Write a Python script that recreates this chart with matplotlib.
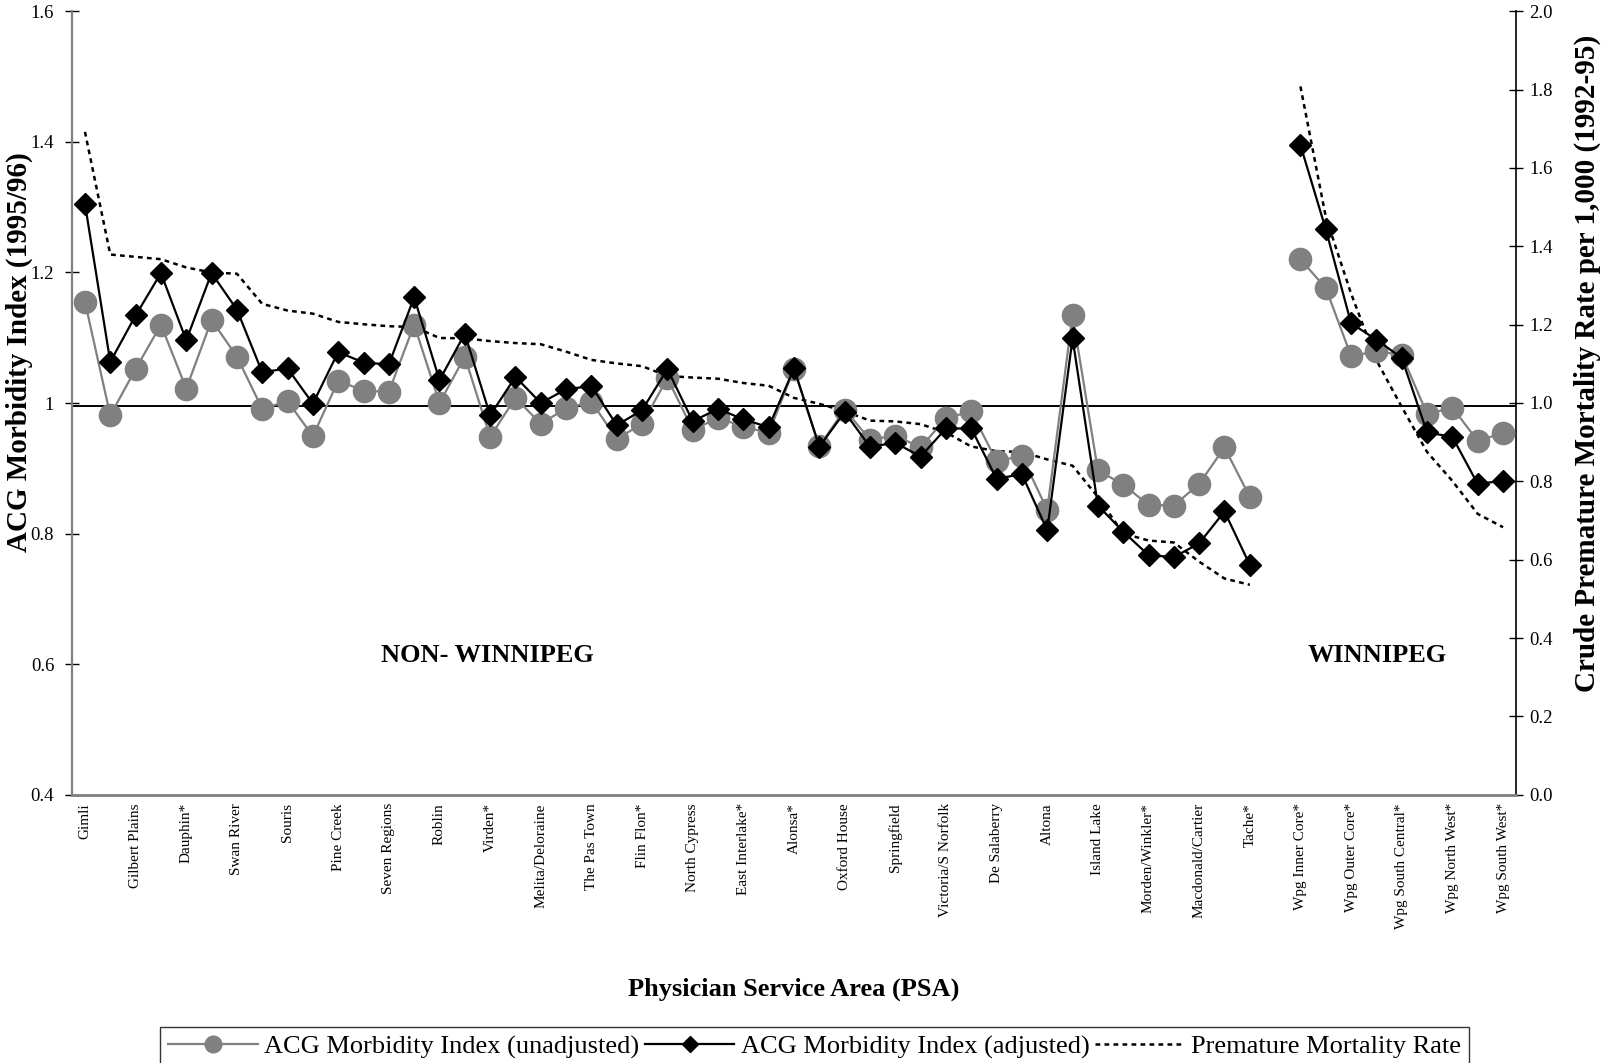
import numpy as np
import matplotlib
matplotlib.use('Agg')
import matplotlib.pyplot as plt
from matplotlib.ticker import FuncFormatter

plt.rcParams['font.family'] = ['Liberation Serif', 'DejaVu Serif']

# ---------------- data ----------------
categories = ['Gimli', '', 'Gilbert Plains', '', 'Dauphin*', '', 'Swan River', '',
              'Souris', '', 'Pine Creek', '', 'Seven Regions', '', 'Roblin', '',
              'Virden*', '', 'Melita/Deloraine', '', 'The Pas Town', '', 'Flin Flon*', '',
              'North Cypress', '', 'East Interlake*', '', 'Alonsa*', '', 'Oxford House', '',
              'Springfield', '', 'Victoria/S Norfolk', '', 'De Salaberry', '', 'Altona', '',
              'Island Lake', '', 'Morden/Winkler*', '', 'Macdonald/Cartier', '', 'Tache*', '',
              'Wpg Inner Core*', '', 'Wpg Outer Core*', '', 'Wpg South Central*', '',
              'Wpg North West*', '', 'Wpg South West*']

acg_unadjusted = [1.155, 0.981, 1.052, 1.120, 1.022, 1.127, 1.071, 0.991, 1.003, 0.949,
                  1.034, 1.019, 1.017, 1.120, 1.000, 1.071, 0.948, 1.008, 0.968, 0.992,
                  1.002, 0.945, 0.968, 1.038, 0.959, 0.977, 0.964, 0.954, 1.052, 0.934,
                  0.990, 0.944, 0.950, 0.932, 0.977, 0.987, 0.911, 0.919, 0.836, 1.135,
                  0.897, 0.875, 0.844, 0.843, 0.876, 0.932, 0.856, np.nan,
                  1.220, 1.176, 1.072, 1.079, 1.074, 0.983, 0.993, 0.942, 0.954]

acg_adjusted = [1.305, 1.063, 1.134, 1.199, 1.096, 1.199, 1.143, 1.047, 1.053, 0.999,
                1.078, 1.062, 1.059, 1.162, 1.035, 1.106, 0.981, 1.040, 1.000, 1.021,
                1.026, 0.966, 0.989, 1.052, 0.972, 0.991, 0.975, 0.963, 1.053, 0.933,
                0.986, 0.933, 0.939, 0.918, 0.961, 0.961, 0.884, 0.891, 0.805, 1.099,
                0.843, 0.803, 0.767, 0.764, 0.785, 0.834, 0.752, np.nan,
                1.395, 1.266, 1.122, 1.097, 1.069, 0.955, 0.948, 0.876, 0.881]

mortality_rate = [1.692, 1.379, 1.373, 1.367, 1.346, 1.333, 1.330, 1.253, 1.236, 1.228,
                  1.207, 1.201, 1.196, 1.194, 1.166, 1.165, 1.158, 1.153, 1.150, 1.131,
                  1.110, 1.101, 1.094, 1.069, 1.065, 1.062, 1.051, 1.044, 1.013, 0.998,
                  0.979, 0.955, 0.953, 0.946, 0.925, 0.889, 0.877, 0.875, 0.856, 0.840,
                  0.760, 0.667, 0.649, 0.644, 0.595, 0.552, 0.536, np.nan,
                  1.808, 1.475, 1.279, 1.109, 0.990, 0.875, 0.801, 0.717, 0.683]

reference_level = 0.995
left_ticks = [0.4, 0.6, 0.8, 1.0, 1.2, 1.4, 1.6]
right_ticks = [0.0, 0.2, 0.4, 0.6, 0.8, 1.0, 1.2, 1.4, 1.6, 1.8, 2.0]

# ---------------- figure ----------------
W, H = 1602, 1063
fig = plt.figure(figsize=(W / 100, H / 100), dpi=100)
L, R, T, B = 72.3, 1515.7, 11.2, 794.8
ax = fig.add_axes([L / W, 1 - B / H, (R - L) / W, (B - T) / H])
ax2 = ax.twinx()
ax.set_zorder(ax2.get_zorder() + 1)
ax.patch.set_visible(False)

x = np.arange(len(categories))
grey = '#808080'

ax.axhline(reference_level, color='black', lw=1.4, zorder=1)
l1, = ax.plot(x, acg_unadjusted, color=grey, lw=1.6, marker='o', ms=16,
              mfc=grey, mec=grey, zorder=2, label='ACG Morbidity Index (unadjusted)')
l2, = ax.plot(x, acg_adjusted, color='black', lw=1.6, marker='D', ms=11.5,
              mfc='black', mec='black', zorder=3, label='ACG Morbidity Index (adjusted)')
l3, = ax2.plot(x, mortality_rate, color='black', lw=1.8, linestyle=(0, (1.9, 1.7)),
               label='Premature Mortality Rate')

ax.set_xlim(-0.5, len(categories) - 0.5)
ax.set_ylim(0.4, 1.6)
ax2.set_ylim(0.0, 2.0)
ax.set_yticks(left_ticks)
ax2.set_yticks(right_ticks)
ax.yaxis.set_major_formatter(FuncFormatter(lambda v, p: f'{v:g}'))
ax2.yaxis.set_major_formatter(FuncFormatter(lambda v, p: f'{v:.1f}'))

ax.set_xticks(x)
ax.set_xticklabels(categories, rotation=90, fontsize=11, va='top', ha='center')
ax.tick_params(axis='x', length=0, pad=6)
ax.tick_params(axis='y', direction='inout', length=10, width=1.0, labelsize=13.5, pad=8)
ax2.tick_params(axis='y', direction='inout', length=10, width=1.0, labelsize=13.5, pad=5)

for a in (ax, ax2):
    a.spines['top'].set_visible(False)
ax.spines['right'].set_visible(False)
ax2.spines['left'].set_visible(False)
ax2.spines['bottom'].set_visible(False)
ax.spines['left'].set_color(grey)
ax.spines['left'].set_linewidth(1.6)
ax.spines['bottom'].set_color(grey)
ax.spines['bottom'].set_linewidth(2.0)
ax2.spines['right'].set_color('black')
ax2.spines['right'].set_linewidth(1.2)

ax.set_ylabel('ACG Morbidity Index (1995/96)', fontsize=21, fontweight='bold',
              va='center', ha='center')
ax.yaxis.set_label_coords(19.4 / W, 1 - 352.5 / H, transform=fig.transFigure)
ax2.set_ylabel('Crude Premature Mortality Rate per 1,000 (1992-95)', fontsize=21,
               fontweight='bold', va='center', ha='center', rotation=90)
ax2.yaxis.set_label_coords(1587 / W, 1 - 363 / H, transform=fig.transFigure)
ax.set_xlabel('Physician Service Area (PSA)', fontsize=19, fontweight='bold',
              va='center', ha='center')
ax.xaxis.set_label_coords(794 / W, 1 - 989 / H, transform=fig.transFigure)

fig.text(487.5 / W, 1 - 655 / H, 'NON- WINNIPEG', fontsize=19, fontweight='bold',
         ha='center', va='center')
fig.text(1377 / W, 1 - 655 / H, 'WINNIPEG', fontsize=19, fontweight='bold',
         ha='center', va='center')

leg = fig.legend(handles=[l1, l2, l3], loc='upper left',
                 bbox_to_anchor=(160 / W, 1 - 1027 / H), ncol=3, fontsize=19,
                 frameon=True, fancybox=False, handlelength=3.4, handletextpad=0.25,
                 columnspacing=0.2, borderpad=0.3, borderaxespad=0, markerscale=0.75)
leg.get_frame().set_edgecolor('black')
leg.get_frame().set_linewidth(1.0)

fig.savefig('out.png', dpi=100)
